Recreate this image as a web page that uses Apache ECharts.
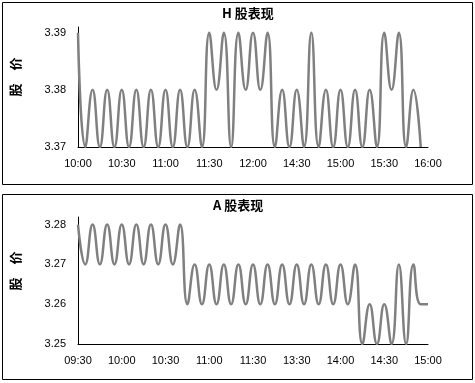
<!DOCTYPE html>
<html>
<head>
<meta charset="utf-8">
<script src="https://cdn.jsdelivr.net/npm/echarts@6/dist/echarts.min.js"></script>
<style>
html,body{margin:0;padding:0;background:#fff;}
#c{width:475px;height:383px;}
</style>
</head>
<body>
<div id="c"></div>
<script>
// Tick labels (every 6th category)
var hTickLabels = ['10:00','10:30','11:00','11:30','12:00','14:30','15:00','15:30','16:00'];
var aTickLabels = ['09:30','10:00','10:30','11:00','11:30','13:30','14:00','14:30','15:00'];

// H-share prices (one point per category step)
var hPrices = [3.39,3.37,3.38,3.37,3.38,3.37,3.38,3.37,3.38,3.37,3.38,3.37,3.38,3.37,3.38,3.37,3.38,3.37,
               3.39,3.38,3.39,3.37,3.39,3.38,3.39,3.38,3.39,3.37,3.38,3.37,3.38,3.37,3.39,3.37,3.38,3.37,
               3.38,3.37,3.38,3.37,3.38,3.37,3.39,3.38,3.39,3.37,3.38,3.37];
// A-share prices
var aPrices = [3.28,3.27,3.28,3.27,3.28,3.27,3.28,3.27,3.28,3.27,3.28,3.27,3.28,3.27,3.28,3.26,3.27,3.26,
               3.27,3.26,3.27,3.26,3.27,3.26,3.27,3.26,3.27,3.26,3.27,3.26,3.27,3.26,3.27,3.26,3.27,3.26,
               3.27,3.26,3.27,3.25,3.26,3.25,3.26,3.25,3.27,3.25,3.27,3.26,3.26];

var hTitle = 'H 股表现', aTitle = 'A 股表现', yName = '股　价';

var steps = (hTickLabels.length - 1) * 6;
var cats = [];
for (var i = 0; i <= steps; i++) cats.push(String(i));

var labelFont = {fontFamily:'Liberation Sans', fontSize:11, color:'#000'};

function xAxisFor(gi, ticks){
  return {
    type:'category', gridIndex:gi, data:cats, boundaryGap:false,
    axisLine:{lineStyle:{color:'#000', width:1}},
    axisTick:{show:false},
    axisLabel:Object.assign({interval:5, margin:11, formatter:function(v, idx){ return ticks[idx/6] || ''; }}, labelFont),
    splitLine:{show:false}
  };
}
function yAxisFor(gi, mn, mx){
  return {
    type:'value', gridIndex:gi, min:mn, max:mx, interval:0.01,
    axisLine:{show:true, lineStyle:{color:'#000', width:1}},
    axisTick:{show:false},
    axisLabel:Object.assign({margin:12, showMaxLabel:false, formatter:function(v){ return v.toFixed(2); }}, labelFont),
    splitLine:{show:false}
  };
}

var chart = echarts.init(document.getElementById('c'), null, {renderer:'canvas'});
chart.setOption({
  backgroundColor:'#fff',
  animation:false,
  title:[
    {text:hTitle, left:222, top:7, padding:0, textStyle:{fontFamily:'Noto Sans CJK SC', fontWeight:'bold', fontSize:13, color:'#000'}},
    {text:aTitle, left:213, top:199, padding:0, textStyle:{fontFamily:'Noto Sans CJK SC', fontWeight:'bold', fontSize:13, color:'#000'}}
  ],
  grid:[
    {left:78, right:47, top:27, height:120},
    {left:78, right:47, top:217, height:127}
  ],
  xAxis:[xAxisFor(0, hTickLabels), xAxisFor(1, aTickLabels)],
  yAxis:[yAxisFor(0, 3.37, 3.391), yAxisFor(1, 3.25, 3.2819)],
  series:[
    {type:'line', xAxisIndex:0, yAxisIndex:0, data:hPrices, smooth:0.5, showSymbol:false,
     lineStyle:{color:'#808080', width:2.5}},
    {type:'line', xAxisIndex:1, yAxisIndex:1, data:aPrices, smooth:0.5, showSymbol:false,
     lineStyle:{color:'#808080', width:2.5}}
  ],
  graphic:[
    {type:'rect', shape:{x:2.5, y:2.5, width:470, height:182}, style:{fill:null, stroke:'#000', lineWidth:1}, silent:true},
    {type:'rect', shape:{x:2.5, y:194.5, width:470, height:185}, style:{fill:null, stroke:'#000', lineWidth:1}, silent:true},
    {type:'text', x:15, y:77, rotation:Math.PI/2, style:{text:yName, fontFamily:'Noto Sans CJK SC', fontWeight:'bold', fontSize:13, fill:'#000', align:'center', verticalAlign:'middle'}},
    {type:'text', x:15, y:271, rotation:Math.PI/2, style:{text:yName, fontFamily:'Noto Sans CJK SC', fontWeight:'bold', fontSize:13, fill:'#000', align:'center', verticalAlign:'middle'}}
  ]
});
</script>
</body>
</html>
